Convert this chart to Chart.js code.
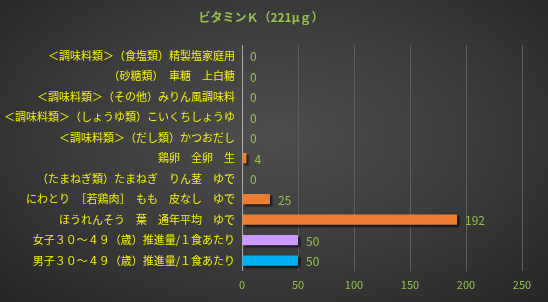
<!DOCTYPE html>
<html>
<head>
<meta charset="utf-8">
<script src="https://cdn.jsdelivr.net/npm/chart.js@4/dist/chart.umd.min.js"></script>
<style>
  html, body { margin: 0; padding: 0; }
  body { width: 548px; height: 302px; overflow: hidden;
    background: radial-gradient(ellipse at 50% 45%, #4e4e4e 0%, #3c3c3c 50%, #262626 100%); }
  #wrap { width: 548px; height: 302px; }
</style>
</head>
<body>
<div id="wrap"><canvas id="graficoBarra"></canvas></div>
<script>
// datos del gráfico
const titulo = 'ビタミンＫ（221μｇ）';
const categorias = [
  '＜調味料類＞（食塩類）精製塩家庭用',
  '（砂糖類）　車糖　上白糖',
  '＜調味料類＞（その他）みりん風調味料',
  '＜調味料類＞（しょうゆ類）こいくちしょうゆ',
  '＜調味料類＞（だし類）かつおだし',
  '鶏卵　全卵　生',
  '（たまねぎ類）たまねぎ　りん茎　ゆで',
  'にわとり　［若鶏肉］　もも　皮なし　ゆで',
  'ほうれんそう　葉　通年平均　ゆで',
  '女子３０～４９（歳）推進量/１食あたり',
  '男子３０～４９（歳）推進量/１食あたり'
];
const valores = [0, 0, 0, 0, 0, 4, 0, 25, 192, 50, 50];
const colores = ['#ed7d31','#ed7d31','#ed7d31','#ed7d31','#ed7d31','#ed7d31','#ed7d31','#ed7d31','#ed7d31','#cc99ff','#00b0f0'];
const ticksX = [0, 50, 100, 150, 200, 250];

const verde = '#92c24e';
const amarillo = '#f2f200';
const fuente = "'Noto Sans CJK JP', 'Noto Sans', sans-serif";

// sombra de las barras + etiquetas de valor
const extras = {
  id: 'extras',
  beforeDatasetsDraw(chart) {
    const c = chart.ctx;
    c.save();
    c.shadowColor = 'rgba(0,0,0,0.7)';
    c.shadowOffsetX = 2;
    c.shadowOffsetY = 2;
    c.shadowBlur = 2;
  },
  afterDatasetsDraw(chart) {
    const c = chart.ctx;
    c.restore();
    c.save();
    c.fillStyle = verde;
    c.font = '12px ' + fuente;
    c.textBaseline = 'middle';
    chart.getDatasetMeta(0).data.forEach((bar, i) => {
      c.fillText(String(valores[i]), bar.x + 8, bar.y + 1);
    });
    c.restore();
  }
};

let ctx = document.getElementById('graficoBarra').getContext('2d');
let grafico = new Chart(ctx, {
  type: 'bar',
  data: {
    labels: categorias,
    datasets: [{
      data: valores,
      backgroundColor: colores,
      barPercentage: 0.5,
      categoryPercentage: 1
    }]
  },
  options: {
    indexAxis: 'y',
    responsive: true,
    maintainAspectRatio: false,
    animation: false,
    layout: { padding: { top: 6, right: 26, bottom: 4, left: 0 } },
    plugins: {
      legend: { display: false },
      tooltip: { enabled: false },
      title: {
        display: true,
        text: titulo,
        color: verde,
        font: { family: fuente, size: 12, weight: 'bold' },
        padding: { top: 4, bottom: 21 }
      }
    },
    scales: {
      x: {
        min: 0,
        max: 250,
        afterBuildTicks(axis) { axis.ticks = ticksX.map(v => ({ value: v })); },
        grid: { color: '#5e5e5e', drawTicks: false },
        border: { display: false },
        ticks: { color: verde, font: { family: fuente, size: 11 }, padding: 7 }
      },
      y: {
        afterFit(axis) { axis.width = 242; },
        grid: { display: false, drawTicks: false },
        border: { display: true, color: '#a8a8a8', width: 1 },
        ticks: { color: amarillo, font: { family: fuente, size: 11 }, padding: 7, autoSkip: false }
      }
    }
  },
  plugins: [extras]
});
</script>
</body>
</html>
